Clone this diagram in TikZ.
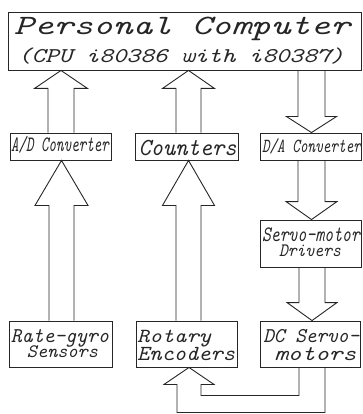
\documentclass[tikz,border=0pt]{standalone}
\usepackage{fontspec}
\usetikzlibrary{calc}

% one line of slanted typewriter text, set at size #2 and squeezed to width #1
\newcommand{\twline}[3]{\resizebox{#1}{\height}{\fontsize{#2}{#2}\selectfont\ttfamily\itshape #3}}

% hollow block arrow pointing up from the top of #1 to the bottom of #2
% #3 half shaft width, #4 half head width, #5 head length, #6 sideways shift
\newcommand{\blockup}[6]{%
  \draw[blk] let \p1=(#1.north), \p2=(#2.south) in
    (\x1+#6-#3,\y1) -- (\x1+#6-#3,\y2-#5) -- (\x1+#6-#4,\y2-#5) -- (\x1+#6,\y2)
    -- (\x1+#6+#4,\y2-#5) -- (\x1+#6+#3,\y2-#5) -- (\x1+#6+#3,\y1);}
% hollow block arrow pointing down from the bottom of #1 to the top of #2
\newcommand{\blockdown}[6]{%
  \draw[blk] let \p1=(#1.south), \p2=(#2.north) in
    (\x1+#6-#3,\y1) -- (\x1+#6-#3,\y2+#5) -- (\x1+#6-#4,\y2+#5) -- (\x1+#6,\y2)
    -- (\x1+#6+#4,\y2+#5) -- (\x1+#6+#3,\y2+#5) -- (\x1+#6+#3,\y1);}

\tikzset{
  box/.style={draw=black!85, line width=0.9pt, inner sep=0pt, anchor=center},
  blk/.style={draw=black!85, line width=0.9pt, line join=miter},
  txt/.style={anchor=base, inner sep=0pt, text=black!85},
}

\begin{document}
\begin{tikzpicture}[x=1pt, y=-1pt]
  \useasboundingbox (0,0) rectangle (363,414);

  % blocks
  \node[box, minimum width=353pt, minimum height=58pt] (pc)  at (184.5,41) {};
  \node[box, minimum width=101pt, minimum height=27pt] (ad)  at (60.5,146.5) {};
  \node[box, minimum width=103pt, minimum height=27pt] (cnt) at (186.5,146.5) {};
  \node[box, minimum width=101pt, minimum height=27pt] (da)  at (310.5,146.5) {};
  \node[box, minimum width=101pt, minimum height=47pt] (drv) at (310.5,243.5) {};
  \node[box, minimum width=103pt, minimum height=46pt] (gyro) at (60.5,344) {};
  \node[box, minimum width=101pt, minimum height=46pt] (enc) at (186.5,344) {};
  \node[box, minimum width=100pt, minimum height=46pt] (mot) at (310.5,344) {};

  % block texts
  \node[txt] (pc1) at (182,35) {\twline{336pt}{28pt}{Personal Computer}};
  \node[txt] (pc2) at (181,63) {\twline{326pt}{21pt}{(CPU i80386 with i80387)}};
  \node[txt] (adt) at (60,152) {\twline{98pt}{22pt}{A/D Converter}};
  \node[txt] (cntt) at (187.5,155) {\twline{98pt}{24.5pt}{Counters}};
  \node[txt] (dat) at (311.5,152) {\twline{99pt}{20pt}{D/A Converter}};
  \node[txt] (drv1) at (311,241) {\twline{98pt}{22pt}{Servo-motor}};
  \node[txt] (drv2) at (310,256.5) {\twline{62pt}{19pt}{Drivers}};
  \node[txt] (gy1) at (60,342) {\twline{98pt}{21pt}{Rate-gyro}};
  \node[txt] (gy2) at (62.5,357.5) {\twline{71pt}{19pt}{Sensors}};
  \node[txt, anchor=base west] (en1) at (137,342) {\twline{74pt}{20pt}{Rotary}};
  \node[txt, anchor=base west] (en2) at (137,360.5) {\twline{98pt}{21.5pt}{Encoders}};
  \node[txt, anchor=base east] (mo1) at (359.5,342) {\twline{96pt}{21pt}{DC Servo-}};
  \node[txt, anchor=base east] (mo2) at (356.5,360) {\twline{82pt}{21pt}{motors}};

  % signal flow
  \blockup{ad}{pc}{13pt}{26.5pt}{18pt}{0.5pt}
  \blockup{cnt}{pc}{12.5pt}{26pt}{18pt}{2pt}
  \blockdown{pc}{da}{13.5pt}{25pt}{16pt}{311.5pt-184.5pt}
  \blockup{gyro}{ad}{12.5pt}{26.5pt}{45pt}{1pt}
  \blockup{enc}{cnt}{12.5pt}{26pt}{45pt}{2pt}
  \blockdown{da}{drv}{13.5pt}{25.5pt}{18pt}{1pt}
  \blockdown{drv}{mot}{13pt}{25pt}{18pt}{1.5pt}

  % feedback from the motors to the encoders
  \draw[blk] let \p1=(mot.south), \p2=(enc.south) in
    (\x1+14.5pt,\y1) -- (\x1+14.5pt,\y1-45pt) -- (\x2-9.5pt,\y1-45pt)
    -- (\x2-9.5pt,\y2-17pt) -- (\x2-22.5pt,\y2-17pt) -- (\x2+2.5pt,\y2)
    -- (\x2+27.5pt,\y2-17pt) -- (\x2+14.5pt,\y2-17pt) -- (\x2+14.5pt,\y1-28pt)
    -- (\x1-11.5pt,\y1-28pt) -- (\x1-11.5pt,\y1);
\end{tikzpicture}
\end{document}
